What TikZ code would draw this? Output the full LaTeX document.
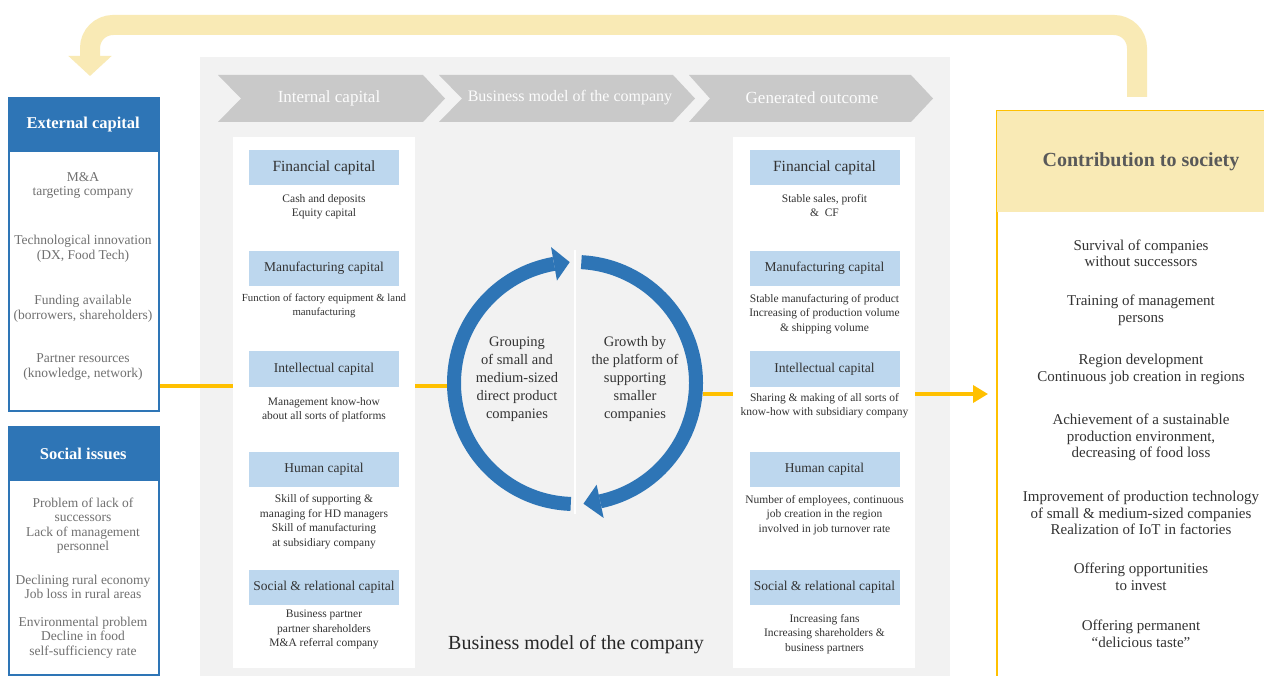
\documentclass[tikz,border=0pt]{standalone}
\usepackage{fontspec}
\setmainfont{Liberation Serif}
\usetikzlibrary{arrows.meta,calc}

\definecolor{panelgray}{HTML}{F2F2F2}
\definecolor{chevgray}{HTML}{C9C9C9}
\definecolor{capblue}{HTML}{BDD7EE}
\definecolor{deepblue}{HTML}{2E75B6}
\definecolor{gold}{HTML}{FFC000}
\definecolor{paleyellow}{HTML}{F9EAB5}
\definecolor{softtext}{HTML}{707070}
\definecolor{darktext}{HTML}{333333}
\definecolor{headtext}{HTML}{595959}

\newcommand\fsz[2]{\fontsize{#1}{#2}\selectfont}

\begin{document}
\begin{tikzpicture}[x=1pt,y=-1pt,
  capbox/.style={fill=capblue, minimum width=150pt, minimum height=35pt, inner sep=0pt,
    font=\fsz{13.5}{16}, text=darktext},
  bodytext/.style={align=center, font=\fsz{11.5}{14.5}, text=darktext, inner sep=0pt},
  sidetext/.style={align=center, font=\fsz{13.5}{14.5}, text=softtext, inner sep=0pt},
  societytext/.style={align=center, font=\fsz{15}{16.5}, text=darktext, inner sep=0pt},
  cycletext/.style={align=center, font=\fsz{14.5}{18}, text=darktext, inner sep=0pt},
  chevtext/.style={text=white!95!chevgray, font=\fsz{17}{20}, inner sep=0pt},
  sidebox/.style={draw=deepblue, line width=1.5pt, fill=white, minimum width=150pt,
    anchor=north west, inner sep=0pt},
  sidehead/.style={fill=deepblue, minimum width=150pt, minimum height=55pt, anchor=north west,
    inner sep=0pt, text=white, font=\bfseries\fsz{16.5}{18}},
  colbox/.style={fill=white, minimum width=182pt, minimum height=531pt, anchor=north west, inner sep=0pt},
  goldline/.style={draw=gold, line width=3.5pt},
  feedback/.style={draw=paleyellow, line width=20pt, rounded corners=23pt}
]
\clip (0,0) rectangle (1264,676);
\fill[white] (0,0) rectangle (1264,676);

% central grey panel
\fill[panelgray] (200,57) rectangle (950,676);

% process chevrons
\fill[chevgray] (218,75) -- (423,75) -- (445,98.5) -- (423,122) -- (218,122) -- (241,98.5) -- cycle;
\fill[chevgray] (439,75) -- (673,75) -- (695,98.5) -- (673,122) -- (439,122) -- (462,98.5) -- cycle;
\fill[chevgray] (689,75) -- (911,75) -- (933,98.5) -- (911,122) -- (689,122) -- (710,98.5) -- cycle;
\node[chevtext] (chevA) at (329,98) {Internal capital};
\node[chevtext, font=\fsz{16}{20}] (chevB) at (570,98) {Business model of the company};
\node[chevtext] (chevC) at (812,98) {Generated outcome};

% capital columns
\node[colbox] (intL) at (233,137) {};
\node[colbox] (outR) at (733,137) {};

% left column: internal capital
\node[capbox, font=\fsz{15.5}{18}] (fin1) at (324,167.5) {Financial capital};
\node[bodytext] (fin1t) at (324,207) {Cash and deposits\\Equity capital};
\node[capbox] (man1) at (324,268.5) {Manufacturing capital};
\node[bodytext, font=\fsz{10.8}{14.5}] (man1t) at (324,306) {Function of factory equipment \& land\\manufacturing};
\node[capbox] (int1) at (324,369) {Intellectual capital};
\node[bodytext] (int1t) at (324,409.5) {Management know-how\\about all sorts of platforms};
\node[capbox] (hum1) at (324,469.5) {Human capital};
\node[bodytext] (hum1t) at (324,521.5) {Skill of supporting \&\\managing for HD managers\\Skill of manufacturing\\at subsidiary company};
\node[capbox] (soc1) at (324,587) {Social \& relational capital};
\node[bodytext] (soc1t) at (324,629.5) {Business partner\\partner shareholders\\M\&A referral company};

% right column: generated outcome
\node[capbox, font=\fsz{15.5}{18}] (fin2) at (824.5,167.5) {Financial capital};
\node[bodytext] (fin2t) at (824.5,205.5) {Stable sales, profit\\\& \ CF};
\node[capbox] (man2) at (824.5,268.5) {Manufacturing capital};
\node[bodytext] (man2t) at (824.5,314) {Stable manufacturing of product\\Increasing of production volume\\\& shipping volume};
\node[capbox] (int2) at (824.5,369) {Intellectual capital};
\node[bodytext] (int2t) at (824.5,405.5) {Sharing \& making of all sorts of\\know-how with subsidiary company};
\node[capbox] (hum2) at (824.5,469.5) {Human capital};
\node[bodytext] (hum2t) at (824.5,515) {Number of employees, continuous\\job creation in the region\\involved in job turnover rate};
\node[capbox] (soc2) at (824.5,587) {Social \& relational capital};
\node[bodytext] (soc2t) at (824.5,634) {Increasing fans\\Increasing shareholders \&\\business partners};

% external capital and social issues
\node[sidebox, minimum height=313pt] (ext) at (8,97) {};
\node[sidehead] (exthead) at (8,97) {External capital};
\node[sidetext] (ext1) at (83,185.5) {M\&A\\targeting company};
\node[sidetext] (ext2) at (83,249) {Technological innovation\\(DX, Food Tech)};
\node[sidetext] (ext3) at (83,309) {Funding available\\(borrowers, shareholders)};
\node[sidetext] (ext4) at (83,367) {Partner resources\\(knowledge, network)};

\node[sidebox, minimum height=248pt] (soc) at (8,426) {};
\node[sidehead] (sochead) at (8,426) {Social issues};
\node[sidetext] (soc1i) at (83,525.5) {Problem of lack of\\successors\\Lack of management\\personnel};
\node[sidetext] (soc2i) at (83,587) {Declining rural economy\\Job loss in rural areas};
\node[sidetext] (soc3i) at (83,637.5) {Environmental problem\\Decline in food\\self-sufficiency rate};

% contribution to society
\node[draw=gold, line width=1.5pt, fill=white, minimum width=290pt, minimum height=570pt,
  anchor=north west, inner sep=0pt] (contrib) at (996,110) {};
\fill[paleyellow] ([xshift=0.75pt,yshift=-0.75pt]contrib.north west) rectangle ++(290,101.5);
\node[text=headtext, font=\bfseries\fsz{20}{24}, inner sep=0pt] (contribtitle) at (1141,162) {Contribution to society};
\node[societytext] (s1) at (1141,253.5) {Survival of companies\\without successors};
\node[societytext] (s2) at (1141,310.5) {Training of management\\persons};
\node[societytext] (s3) at (1141,369.5) {Region development\\Continuous job creation in regions};
\node[societytext] (s4) at (1141,437.5) {Achievement of a sustainable\\production environment,\\decreasing of food loss};
\node[societytext] (s5) at (1141,513) {Improvement of production technology\\of small \& medium-sized companies\\Realization of IoT in factories};
\node[societytext] (s6) at (1141,577) {Offering opportunities\\to invest};
\node[societytext] (s7) at (1141,634) {Offering permanent\\“delicious taste”};

% yellow flow connectors
\node[circle, minimum size=256pt, inner sep=0pt] (cyc) at (575,383) {};
\coordinate (yL) at (0,386);
\coordinate (yR) at (0,394);
\draw[goldline] (ext.east |- yL) -- (intL.west |- yL);
\draw[goldline] (intL.east |- yL) -- (cyc.west |- yL);
\draw[goldline] (cyc.east |- yR) -- (outR.west |- yR);
\draw[goldline, -{Triangle[length=15pt,width=17pt]}, shorten >=8pt] (outR.east |- yR) -- (contrib.west |- yR);

% business model cycle
\draw[white, line width=2pt] (575,250) -- (575,514);
\draw[deepblue, line width=14pt] ($(cyc.center)+(92:121)$) arc[start angle=92, end angle=260, radius=121];
\fill[deepblue] ($(cyc.center)+(260:104)$) -- ($(cyc.center)+(260:138)$) -- ($(cyc.center)+(267.5:121)$) -- cycle;
\draw[deepblue, line width=14pt] ($(cyc.center)+(273:121)$) arc[start angle=273, end angle=438, radius=121];
\fill[deepblue] ($(cyc.center)+(438:104)$) -- ($(cyc.center)+(438:138)$) -- ($(cyc.center)+(446:121)$) -- cycle;
\node[cycletext] (grp) at (517,379) {Grouping\\of small and\\medium-sized\\direct product\\companies};
\node[cycletext] (grw) at (635,379) {Growth by\\the platform of\\supporting\\smaller\\companies};
\node[text=black!85, font=\fsz{20}{24}, inner sep=0pt] (bmlabel) at (576,645) {Business model of the company};

% feedback loop back to external capital
\coordinate (fbS) at (1137,97);
\coordinate (fbE) at (90,76);
\draw[feedback, -{Triangle[length=20pt,width=42pt]}] (fbS) -- (1137,25) -- (90,25) -- (fbE);
\end{tikzpicture}
\end{document}
